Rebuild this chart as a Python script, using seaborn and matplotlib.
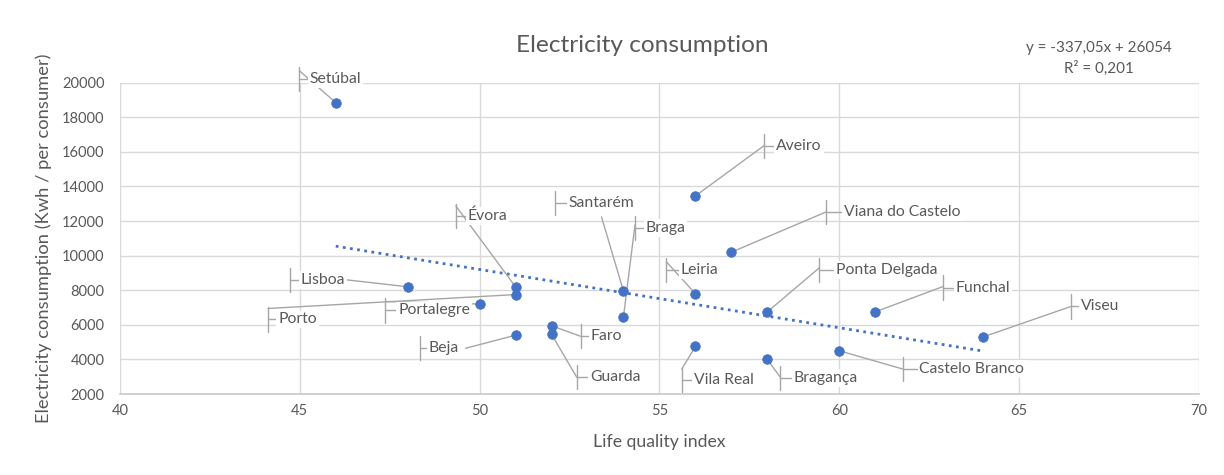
import matplotlib
matplotlib.use("Agg")
import matplotlib.pyplot as plt
import seaborn as sns
import pandas as pd

# ---- data ----
districts = ["Setúbal", "Aveiro", "Viana do Castelo", "Santarém", "Braga", "Leiria",
             "Ponta Delgada", "Funchal", "Viseu", "Lisboa", "Évora", "Porto",
             "Portalegre", "Beja", "Faro", "Guarda", "Vila Real", "Bragança",
             "Castelo Branco"]
life_quality = [46, 56, 57, 54, 54, 56, 58, 61, 64, 48, 51, 51, 50, 51, 52, 52, 56, 58, 60]
electricity = [18850, 13450, 10200, 7950, 6450, 7800, 6750, 6750, 5300, 8200, 8200, 7750,
               7200, 5400, 5950, 5450, 4750, 4000, 4500]

trend_slope = -337.05
trend_intercept = 26054
trend_lines = ["y = -337,05x + 26054", "R² = 0,201"]

# ---- label layout (text left x, text y, bracket x, leader start x, leader start y) ----
label_layout = {
    "Setúbal": (45.27, 20230, 44.99, 44.99, 20690),
    "Aveiro": (58.25, 16319, 57.92, 57.92, 16377),
    "Viana do Castelo": (60.13, 12524, 59.63, 59.63, 12524),
    "Santarém": (52.48, 13041, 52.11, 53.39, 12236),
    "Braga": (54.61, 11604, 54.32, 54.32, 11776),
    "Leiria": (55.59, 9188, 55.19, 55.19, 9648),
    "Ponta Delgada": (59.91, 9188, 59.45, 59.45, 9303),
    "Funchal": (63.24, 8153, 62.88, 62.88, 8210),
    "Viseu": (66.71, 7060, 66.44, 66.44, 7060),
    "Lisboa": (45.02, 8613, 44.74, 46.25, 8613),
    "Évora": (49.67, 12294, 49.34, 49.34, 12869),
    "Porto": (44.40, 6313, 44.12, 44.12, 6945),
    "Portalegre": (47.74, 6830, 47.38, 47.38, 7348),
    "Beja": (48.58, 4645, 48.35, 49.61, 4645),
    "Faro": (53.09, 5335, 52.81, 52.81, 5335),
    "Guarda": (53.07, 2977, 52.70, 52.70, 2977),
    "Vila Real": (55.95, 2805, 55.62, 55.62, 3437),
    "Bragança": (58.73, 2920, 58.36, 58.36, 2977),
    "Castelo Branco": (62.23, 3437, 61.78, 61.78, 3437),
}

df = pd.DataFrame({"district": districts, "x": life_quality, "y": electricity})

sns.set_theme(style="white")
plt.rcParams["font.family"] = ["Lato", "DejaVu Sans"]

TEXT = "#595959"
GRID = "#D9D9D9"
BLUE = "#4472C4"
LEADER = "#A6A6A6"

fig = plt.figure(figsize=(12.24, 4.75), dpi=100)
ax = fig.add_axes([0.098, 0.1705, 0.8815, 0.6554])

ax.set_xlim(40, 70)
ax.set_ylim(2000, 20000)
ax.set_xticks(range(40, 71, 5))
ax.set_yticks(range(2000, 20001, 2000))
ax.grid(True, color=GRID, linewidth=1)
ax.set_axisbelow(True)
for s in ["top", "right", "left"]:
    ax.spines[s].set_visible(False)
ax.spines["bottom"].set_color("#C8C8C8")
ax.spines["bottom"].set_linewidth(1.2)
ax.tick_params(axis="both", length=0, labelsize=10.5, colors=TEXT)
ax.tick_params(axis="y", pad=11)
ax.tick_params(axis="x", pad=7)

# trendline
tx = [min(life_quality), max(life_quality)]
ty = [trend_slope * v + trend_intercept for v in tx]
ax.plot(tx, ty, linestyle=(0, (1, 1.6)), color=BLUE, linewidth=2, zorder=2)

# leader lines and brackets
for name, px, py in zip(districts, life_quality, electricity):
    lx, ly, bx, ax0, ay0 = label_layout[name]
    ax.plot([bx, bx], [ly - 700, ly + 700], color=LEADER, linewidth=1, zorder=3, clip_on=False)
    ax.plot([bx, lx], [ly, ly], color=LEADER, linewidth=1, zorder=3, clip_on=False)
    ax.plot([ax0, px], [ay0, py], color=LEADER, linewidth=1, zorder=3, clip_on=False)

sns.scatterplot(data=df, x="x", y="y", ax=ax, color=BLUE, s=48, edgecolor=BLUE,
                linewidth=0.5, zorder=5, legend=False)

for name in districts:
    lx, ly, bx, ax0, ay0 = label_layout[name]
    ax.text(lx, ly, name, fontsize=11.3, color=TEXT, ha="left", va="center", zorder=4,
            clip_on=False,
            bbox=dict(boxstyle="square,pad=0.12", facecolor="white", edgecolor="none"))

ax.set_xlabel("Life quality index", fontsize=12.7, color=TEXT, labelpad=12)
ax.set_ylabel("Electricity consumption (Kwh / per consumer)", fontsize=13.2, color=TEXT, labelpad=7)

fig.text(0.525, 0.904, "Electricity consumption", fontsize=17.6, color=TEXT, ha="center", va="center")
fig.text(0.898, 0.899, trend_lines[0], fontsize=10.9, color=TEXT, ha="center", va="center")
fig.text(0.898, 0.856, trend_lines[1], fontsize=10.9, color=TEXT, ha="center", va="center")

fig.savefig("out.png", dpi=100)
